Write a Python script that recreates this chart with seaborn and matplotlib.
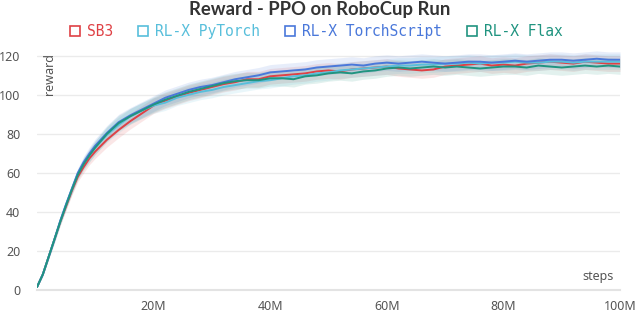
import matplotlib
matplotlib.use("Agg")
import matplotlib.pyplot as plt
from matplotlib.lines import Line2D
import seaborn as sns
import pandas as pd

steps_m = [0, 1, 2, 3, 4, 5, 6, 7, 8, 9, 10, 12, 14, 16, 18, 20, 22, 24, 26, 28, 30,
           32, 34, 36, 38, 40, 42, 44, 46, 48, 50, 52, 54, 56, 58, 60, 62, 64, 66, 68,
           70, 72, 74, 76, 78, 80, 82, 84, 86, 88, 90, 92, 94, 96, 98, 100]

sb3 = [1.5, 8, 17, 26, 35, 43, 51, 58, 63, 67.5, 71, 77, 82, 86.5, 90.5, 94.5, 97, 99,
       101, 102.5, 104, 105.5, 106.5, 108, 108, 109.5, 110, 110.5, 111, 112, 112.5, 112,
       113, 113.5, 114, 114.5, 113.5, 113, 112.5, 113, 114.5, 115, 115.5, 116, 115,
       115.5, 115, 116, 116.5, 117, 116.5, 116, 117, 116.5, 116, 116]
pytorch = [1.5, 8, 17, 26, 35.5, 44, 52, 59.5, 65, 69, 73, 79.5, 84.5, 89, 92, 94.5,
           96, 98.5, 100, 101.5, 102.5, 104, 105, 106, 107, 107.5, 108.5, 109.5, 110,
           111, 111.5, 112.5, 113, 113.5, 114, 114.5, 115, 115, 115.5, 115.5, 116, 116,
           116.5, 116, 116.5, 116.5, 117, 116.5, 116.5, 117, 117, 116.5, 117, 117, 117, 117]
torchscript = [1.5, 8, 17, 26, 35.5, 44, 52, 60, 65.5, 70, 74, 80.5, 86, 89.5, 92.5,
               95.5, 98.5, 100.5, 102.5, 104, 105, 106.5, 108, 109, 110, 111.5, 112,
               112.5, 113, 114, 114.5, 115, 115.5, 115, 116, 116.5, 116, 116.5, 117,
               116.5, 116, 116.5, 117, 117, 116.5, 117, 117.5, 117, 117.5, 118, 118,
               117.5, 118, 118.5, 118, 118]
flax = [1.5, 8, 17, 26, 35, 43.5, 51.5, 59, 64.5, 69, 73, 80, 85.5, 89, 92, 95, 97.5,
        99.5, 101.5, 103, 104.5, 106, 107, 107.5, 107.5, 108.5, 108.5, 108, 109.5, 110,
        111, 111.5, 111, 112, 112.5, 113.5, 114, 113.5, 114, 114.5, 114, 114.5, 114,
        113.5, 114, 114.5, 114.5, 114, 115, 114.5, 114, 114.5, 115, 114.5, 115, 114.5]

spread = [0.3, 0.8, 1.2, 1.5, 1.8, 2, 2.3, 2.5, 3, 3.3, 3.5, 3.8, 4, 4, 4, 4,
          4, 4, 4, 4, 4, 4, 4, 4, 4, 4, 4, 4, 4, 4, 4,
          4, 4, 4, 4, 4, 4, 4, 4, 4, 4, 4, 4, 4, 4, 4,
          4, 4, 4, 4, 4, 4, 4, 4, 4, 4]

labels = ["SB3", "RL-X PyTorch", "RL-X TorchScript", "RL-X Flax"]
colors = ["#DF4145", "#58BFDB", "#4A78DA", "#209480"]
series = [sb3, pytorch, torchscript, flax]

rows = []
for lab, vals in zip(labels, series):
    for s, v in zip(steps_m, vals):
        rows.append({"steps": s, "reward": v, "run": lab})
df = pd.DataFrame(rows)

sns.set_style("white")
plt.rcParams["font.family"] = ["Noto Sans", "DejaVu Sans"]

fig = plt.figure(figsize=(6.4, 3.16), dpi=100)
ax = fig.add_axes([37 / 640, 26 / 316, 583 / 640, 242 / 316])

for lab, vals, col in zip(labels, series, colors):
    lo = [v - s for v, s in zip(vals, spread)]
    hi = [v + s for v, s in zip(vals, spread)]
    ax.fill_between(steps_m, lo, hi, color=col, alpha=0.13, linewidth=0)

sns.lineplot(data=df, x="steps", y="reward", hue="run", palette=colors,
             hue_order=labels, linewidth=1.4, ax=ax, legend=False)

ax.set_xlim(0, 100)
ax.set_ylim(0, 124)
ax.set_yticks([0, 20, 40, 60, 80, 100, 120])
ax.set_xticks([20, 40, 60, 80, 100])
ax.set_xticklabels(["20M", "40M", "60M", "80M", "100M"])
ax.grid(axis="y", color="#EBEBEB", linewidth=1)
ax.set_xlabel("")
ax.set_ylabel("")
for sp in ["top", "right", "left"]:
    ax.spines[sp].set_visible(False)
ax.spines["bottom"].set_color("#E3E3E3")
ax.spines["bottom"].set_linewidth(1.5)
ax.tick_params(axis="x", direction="inout", length=9, width=1, color="#E3E3E3",
               labelsize=9, labelcolor="#555555", pad=3)
ax.tick_params(axis="y", length=0, labelsize=9, labelcolor="#555555", pad=12)

ax.text(0.99, 0.03, "steps", transform=ax.transAxes, ha="right", va="bottom",
        fontsize=9, color="#555555")
ax.text(0.022, 0.98, "reward", transform=ax.transAxes, ha="center", va="top",
        rotation=90, fontsize=9, color="#555555")

fig.text(0.5, 0.970, "Reward - PPO on RoboCup Run", ha="center", va="center",
         fontsize=13.3, fontweight="bold", family="Lato", color="#333333")

handles = [Line2D([], [], linestyle="none", marker="s", markersize=7.5,
                  markerfacecolor="none", markeredgecolor=c, markeredgewidth=1.2)
           for c in colors]
leg = fig.legend(handles, labels, loc="center", bbox_to_anchor=(0.494, 0.900), ncol=4,
                 frameon=False, handletextpad=0.42, columnspacing=1.65,
                 handlelength=0.8, prop={"family": "DejaVu Sans Mono", "size": 10.5})
for t, c in zip(leg.get_texts(), colors):
    t.set_color(c)

fig.savefig("out.png", dpi=100)
